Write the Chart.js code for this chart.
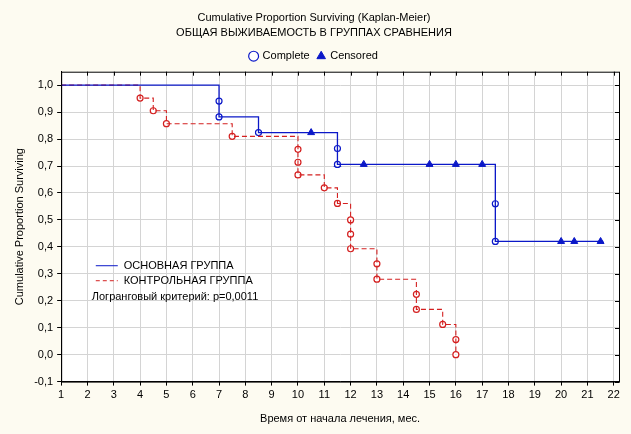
<!DOCTYPE html>
<html>
<head>
<meta charset="utf-8">
<script src="https://cdn.jsdelivr.net/npm/chart.js@4"></script>
<style>
  html, body { margin: 0; padding: 0; background: #fdfbf1; }
  #wrap { width: 631px; height: 434px; }
</style>
</head>
<body>
<div id="wrap"><canvas id="km"></canvas></div>
<script>
// ступенчатые кривые (время, доля выживших)
const mainX = [1, 7, 7, 8.5, 11.5, 11.5, 17.5, 17.5, 21.6];
const mainY = [1.0, 0.941, 0.882, 0.824, 0.765, 0.706, 0.56, 0.42, 0.42];
const ctrlX = [1, 4, 4.5, 5, 7.5, 10, 10, 10, 11, 11.5, 12, 12, 12, 13, 13, 14.5, 14.5, 15.5, 16, 16];
const ctrlY = [1.0, 0.952, 0.905, 0.857, 0.81, 0.762, 0.714, 0.667, 0.619, 0.561, 0.5, 0.447, 0.393, 0.337, 0.28, 0.224, 0.168, 0.112, 0.056, 0.0];

// цензурированные наблюдения (основная группа)
const censX = [10.5, 11.5, 12.5, 15, 16, 17, 20, 20.5, 21.5];
const censY = [0.824, 0.706, 0.706, 0.706, 0.706, 0.706, 0.42, 0.42, 0.42];

const xTicks = [1, 2, 3, 4, 5, 6, 7, 8, 9, 10, 11, 12, 13, 14, 15, 16, 17, 18, 19, 20, 21, 22];
const yTicks = [-0.1, 0, 0.1, 0.2, 0.3, 0.4, 0.5, 0.6, 0.7, 0.8, 0.9, 1.0];

const BLUE = '#0b18c8';
const RED = '#d42020';

function pts(xs, ys) { return xs.map((x, i) => ({ x, y: ys[i] })); }

// полные наблюдения: все точки кроме начальной и концевой
const mainComplete = pts(mainX, mainY).slice(1, -1);
const ctrlComplete = pts(ctrlX, ctrlY).slice(1);

// фон и рамка области графика
const framePlugin = {
    id: 'frame',
    beforeDraw(chart) {
        const { ctx, chartArea: a } = chart;
        ctx.save();
        ctx.fillStyle = '#fdfbf1';
        ctx.fillRect(0, 0, chart.width, chart.height);
        ctx.fillStyle = '#ffffff';
        ctx.fillRect(a.left, a.top, a.right - a.left, a.bottom - a.top);
        ctx.restore();
    },
    afterDraw(chart) {
        const { ctx, chartArea: a, scales } = chart;
        ctx.save();
        ctx.strokeStyle = '#000';
        ctx.lineWidth = 1;
        ctx.strokeRect(a.left + 0.5, a.top + 0.5, a.right - a.left, a.bottom - a.top);
        // засечки сверху и справа
        ctx.beginPath();
        xTicks.forEach(v => {
            const x = Math.round(scales.x.getPixelForValue(v)) + 0.5;
            ctx.moveTo(x, a.top); ctx.lineTo(x, a.top + 4);
        });
        yTicks.forEach(v => {
            const y = Math.round(scales.y.getPixelForValue(v)) + 0.5;
            ctx.moveTo(a.right, y); ctx.lineTo(a.right - 4, y);
        });
        ctx.stroke();

        // легенда внутри графика
        const lx = scales.x.getPixelForValue(3);
        const ly = scales.y.getPixelForValue(0.33);
        ctx.font = '11px "Liberation Sans", Arial, sans-serif';
        ctx.textBaseline = 'middle';
        ctx.lineWidth = 1;
        ctx.strokeStyle = BLUE;
        ctx.beginPath(); ctx.moveTo(lx - 18, ly); ctx.lineTo(lx + 4, ly); ctx.stroke();
        ctx.strokeStyle = RED;
        ctx.setLineDash([4, 3]);
        ctx.beginPath(); ctx.moveTo(lx - 18, ly + 15); ctx.lineTo(lx + 4, ly + 15); ctx.stroke();
        ctx.setLineDash([]);
        ctx.fillStyle = '#000';
        ctx.fillText('ОСНОВНАЯ ГРУППА', lx + 10, ly);
        ctx.fillText('КОНТРОЛЬНАЯ ГРУППА', lx + 10, ly + 15);
        ctx.fillText('Логранговый критерий: p=0,0011', lx - 22, ly + 31);
        ctx.restore();
    }
};

const font = { family: '"Liberation Sans", Arial, sans-serif', size: 11 };

new Chart(document.getElementById('km'), {
    type: 'scatter',
    data: {
        datasets: [
            {
                label: 'main', type: 'line', data: pts(mainX, mainY), stepped: 'before',
                borderColor: BLUE, borderWidth: 1.3, pointRadius: 0, fill: false
            },
            {
                label: 'ctrl', type: 'line', data: pts(ctrlX, ctrlY), stepped: 'before',
                borderColor: RED, borderWidth: 1.1, borderDash: [5, 3], pointRadius: 0, fill: false
            },
            {
                label: 'Complete', data: mainComplete, pointStyle: 'circle', pointRadius: 3,
                borderColor: BLUE, backgroundColor: '#ffffff', borderWidth: 1.2
            },
            {
                label: 'Complete2', data: ctrlComplete, pointStyle: 'circle', pointRadius: 3,
                borderColor: RED, backgroundColor: '#ffffff', borderWidth: 1.2
            },
            {
                label: 'Censored', data: pts(censX, censY), pointStyle: 'triangle', pointRadius: 4,
                borderColor: BLUE, backgroundColor: BLUE, borderWidth: 1
            }
        ]
    },
    options: {
        responsive: true,
        maintainAspectRatio: false,
        animation: false,
        layout: { padding: { top: 2, right: 12, left: 9, bottom: 4 } },
        plugins: {
            title: {
                display: true,
                text: ['Cumulative Proportion Surviving (Kaplan-Meier)', 'ОБЩАЯ ВЫЖИВАЕМОСТЬ В ГРУППАХ СРАВНЕНИЯ'],
                color: '#000', font: { ...font, weight: 'normal', lineHeight: 1.35 }, padding: { top: 9, bottom: 2 }
            },
            legend: {
                display: true,
                labels: {
                    color: '#000', font, boxWidth: 7, boxHeight: 7, usePointStyle: true, padding: 8,
                    filter: item => item.text === 'Complete' || item.text === 'Censored'
                },
                onClick: null
            },
            tooltip: { enabled: false }
        },
        scales: {
            x: {
                type: 'linear', min: 1, max: 22.2,
                afterBuildTicks: s => { s.ticks = xTicks.map(v => ({ value: v })); },
                grid: { color: '#d4d4d4', drawTicks: true, tickLength: 4, tickColor: '#000' },
                border: { color: '#000' },
                ticks: { color: '#000', font, padding: 3 },
                title: { display: true, text: 'Время от начала лечения, мес.', color: '#000', font, padding: { top: 8 } }
            },
            y: {
                type: 'linear', min: -0.1, max: 1.05,
                afterBuildTicks: s => { s.ticks = yTicks.map(v => ({ value: v })); },
                grid: { color: '#d4d4d4', tickLength: 4, tickColor: '#000' },
                border: { color: '#000' },
                ticks: { color: '#000', font, padding: 4, callback: v => v.toFixed(1).replace('.', ',') },
                title: { display: true, text: 'Cumulative Proportion Surviving', color: '#000', font, padding: { bottom: 4 } }
            }
        }
    },
    plugins: [framePlugin]
});
</script>
</body>
</html>
